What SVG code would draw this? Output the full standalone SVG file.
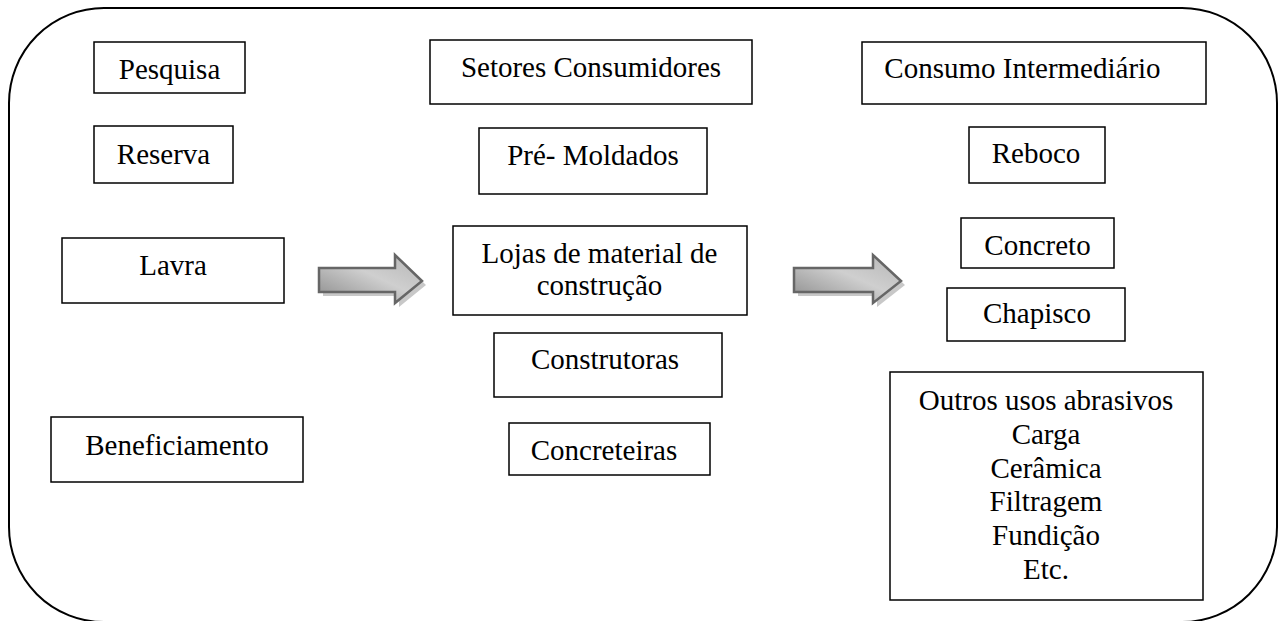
<svg xmlns="http://www.w3.org/2000/svg" width="1286" height="621" viewBox="0 0 1286 621">
<style>
.box{fill:#fff;stroke:#000;stroke-width:1.5}
.t{font-family:'Liberation Serif','Times New Roman',serif;font-size:29px;fill:#000;text-anchor:middle}
.arr{fill:url(#ag);stroke:#666;stroke-width:2.5;stroke-linejoin:miter}
.sh{fill:#c8c8c8}
</style>
<defs>
<linearGradient id="ag" x1="0" y1="1" x2="1" y2="0">
<stop offset="0" stop-color="#8a8a8a"/>
<stop offset="0.55" stop-color="#cfcfcf"/>
<stop offset="1" stop-color="#b5b5b5"/>
</linearGradient>
</defs>
<rect x="9" y="8" width="1268" height="614" rx="95" ry="95" fill="#fff" stroke="#000" stroke-width="2"/>
<g id="pesquisa"><rect class="box" x="94" y="42" width="151" height="51"/><text class="t" x="169.5" y="79">Pesquisa</text></g>
<g id="reserva"><rect class="box" x="94" y="126" width="139" height="57"/><text class="t" x="163.5" y="164">Reserva</text></g>
<g id="lavra"><rect class="box" x="62" y="238" width="222" height="65"/><text class="t" x="173" y="275">Lavra</text></g>
<g id="beneficiamento"><rect class="box" x="51" y="417" width="252" height="65"/><text class="t" x="177" y="455">Beneficiamento</text></g>
<g id="setores"><rect class="box" x="430" y="40" width="322" height="64"/><text class="t" x="591" y="77">Setores Consumidores</text></g>
<g id="premoldados"><rect class="box" x="479" y="128" width="228" height="66"/><text class="t" x="593" y="165">Pré- Moldados</text></g>
<g id="lojas"><rect class="box" x="453" y="226" width="294" height="89"/><text class="t" x="599.5" y="263">Lojas de material de</text><text class="t" x="599.5" y="295">construção</text></g>
<g id="construtoras"><rect class="box" x="494" y="333" width="228" height="64"/><text class="t" x="605" y="369">Construtoras</text></g>
<g id="concreteiras"><rect class="box" x="509" y="423" width="201" height="52"/><text class="t" x="604" y="460">Concreteiras</text></g>
<g id="consumo"><rect class="box" x="862" y="42" width="344" height="62"/><text class="t" x="1022.5" y="78">Consumo Intermediário</text></g>
<g id="reboco"><rect class="box" x="969" y="127" width="136" height="56"/><text class="t" x="1036" y="163">Reboco</text></g>
<g id="concreto"><rect class="box" x="961" y="218" width="153" height="50"/><text class="t" x="1037.5" y="255">Concreto</text></g>
<g id="chapisco"><rect class="box" x="947" y="288" width="178" height="53"/><text class="t" x="1037" y="323">Chapisco</text></g>
<g id="outros"><rect class="box" x="890" y="372" width="313" height="228"/>
<text class="t" x="1046" y="410">Outros usos abrasivos</text>
<text class="t" x="1046" y="444">Carga</text>
<text class="t" x="1046" y="478">Cerâmica</text>
<text class="t" x="1046" y="511">Filtragem</text>
<text class="t" x="1046" y="545">Fundição</text>
<text class="t" x="1046" y="579">Etc.</text></g>
<g id="connectors">
<polygon class="sh" points="323,272 399,272 399,259 426,285 399,307 399,296 323,296"/>
<polygon class="arr" points="319,268 395,268 395,255 422,281 395,303 395,292 319,292"/>
<polygon class="sh" points="798,272 877,272 877,259 905,285 877,307 877,296 798,296"/>
<polygon class="arr" points="794,268 873,268 873,255 901,281 873,303 873,292 794,292"/>
</g>
</svg>
